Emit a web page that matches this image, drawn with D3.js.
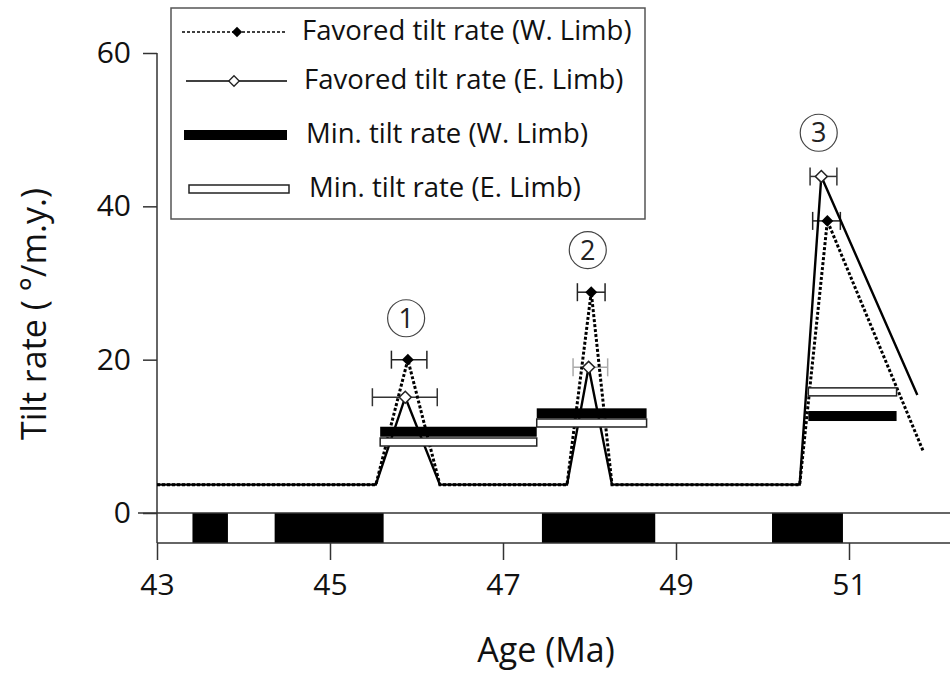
<!DOCTYPE html>
<html>
<head>
<meta charset="utf-8">
<script src="https://cdn.jsdelivr.net/npm/d3@7"></script>
<style>
  body { margin: 0; background: #fff; }
  text { font-family: "Open Sans", sans-serif; fill: #111; }
</style>
</head>
<body>
<div id="chart"></div>
<script>
// favored tilt rate, W. limb (dashed line, filled diamonds)
var westLine = [
  {age: 43.00, rate: 3.7}, {age: 45.53, rate: 3.7}, {age: 45.90, rate: 20.0},
  {age: 46.27, rate: 3.7}, {age: 47.74, rate: 3.7}, {age: 48.02, rate: 28.8},
  {age: 48.26, rate: 3.7}, {age: 50.43, rate: 3.7}, {age: 50.75, rate: 38.1},
  {age: 51.86, rate: 8.0}
];
var westPeaks = [
  {age: 45.90, rate: 20.0, lo: 45.71, hi: 46.12},
  {age: 48.02, rate: 28.8, lo: 47.86, hi: 48.18},
  {age: 50.75, rate: 38.1, lo: 50.58, hi: 50.90}
];

// favored tilt rate, E. limb (solid line, open diamonds)
var eastLine = [
  {age: 43.00, rate: 3.7}, {age: 45.53, rate: 3.7}, {age: 45.87, rate: 15.1},
  {age: 46.27, rate: 3.7}, {age: 47.74, rate: 3.7}, {age: 47.99, rate: 19.0},
  {age: 48.26, rate: 3.7}, {age: 50.43, rate: 3.7}, {age: 50.68, rate: 43.9},
  {age: 51.79, rate: 15.4}
];
var eastPeaks = [
  {age: 45.87, rate: 15.1, lo: 45.49, hi: 46.24, faint: false},
  {age: 47.99, rate: 19.0, lo: 47.81, hi: 48.21, faint: true},
  {age: 50.68, rate: 43.9, lo: 50.55, hi: 50.86, faint: false}
];

// minimum tilt rates
var westMin = [
  {from: 45.58, to: 47.39, rate: 10.6},
  {from: 47.39, to: 48.66, rate: 13.0},
  {from: 50.53, to: 51.55, rate: 12.65}
];
var eastMin = [
  {from: 45.58, to: 47.39, rate: 9.26},
  {from: 47.39, to: 48.66, rate: 11.74},
  {from: 50.53, to: 51.55, rate: 15.8}
];

// reversed polarity chrons (black blocks)
var chrons = [[43.41, 43.82], [44.36, 45.62], [47.45, 48.76], [50.11, 50.93]];

// circled event numbers
var events = [
  {label: "1", age: 45.88, rate: 25.4},
  {label: "2", age: 47.98, rate: 34.3},
  {label: "3", age: 50.65, rate: 49.6}
];

var xTicks = [43, 45, 47, 49, 51];
var yTicks = [0, 20, 40, 60];
var legendLabels = [
  "Favored tilt rate (W. Limb)",
  "Favored tilt rate (E. Limb)",
  "Min. tilt rate (W. Limb)",
  "Min. tilt rate (E. Limb)"
];

var width = 950, height = 674;

var svg = d3.select("#chart")
  .append("svg")
    .attr("width", width)
    .attr("height", height);

var x = d3.scaleLinear().domain([43, 51]).range([157, 849]);
var y = d3.scaleLinear().domain([0, 60]).range([513, 53]);
var barDepth = 30;
var y0 = y(0);

// polarity bar
svg.append("g")
  .selectAll("rect")
  .data(chrons)
  .enter().append("rect")
    .attr("x", d => x(d[0]))
    .attr("y", y0)
    .attr("width", d => x(d[1]) - x(d[0]))
    .attr("height", barDepth)
    .attr("fill", "#000");
svg.append("line")
  .attr("x1", x(43) - 19).attr("x2", width)
  .attr("y1", y0).attr("y2", y0)
  .attr("stroke", "#333").attr("stroke-width", 1.5);
svg.append("line")
  .attr("x1", x(43)).attr("x2", width)
  .attr("y1", y0 + barDepth).attr("y2", y0 + barDepth)
  .attr("stroke", "#333").attr("stroke-width", 1.5);

// y axis
var yAxis = svg.append("g")
  .attr("transform", "translate(" + x(43) + ",0)")
  .call(d3.axisLeft(y).tickValues(yTicks).tickSize(14).tickPadding(12))
  .call(g => g.select(".domain").remove());
yAxis.selectAll("line").attr("stroke", "#333").attr("stroke-width", 1.5);
yAxis.selectAll("text").style("font-size", "30px").style("font-family", "Open Sans");
svg.append("line")
  .attr("x1", x(43)).attr("x2", x(43))
  .attr("y1", y(60)).attr("y2", y0 + barDepth)
  .attr("stroke", "#333").attr("stroke-width", 1.5);

// x axis
var xAxis = svg.append("g")
  .attr("transform", "translate(0," + (y0 + barDepth) + ")")
  .call(d3.axisBottom(x).tickValues(xTicks).tickSize(17).tickPadding(14))
  .call(g => g.select(".domain").remove());
xAxis.selectAll("line").attr("stroke", "#333").attr("stroke-width", 1.5);
xAxis.selectAll("text").style("font-size", "30px").style("font-family", "Open Sans");

// axis titles
svg.append("text")
  .attr("x", 546).attr("y", 662)
  .attr("text-anchor", "middle")
  .style("font-size", "34px")
  .text("Age (Ma)");
svg.append("text")
  .attr("transform", "translate(46,314) rotate(-90)")
  .attr("text-anchor", "middle")
  .style("font-size", "34px")
  .text("Tilt rate ( °/m.y.)");

// error bars
function errorBars(data, color) {
  var g = svg.append("g");
  data.forEach(function(d) {
    var c = d.faint ? "#aaa" : color;
    g.append("line")
      .attr("x1", x(d.lo)).attr("x2", x(d.hi))
      .attr("y1", y(d.rate)).attr("y2", y(d.rate))
      .attr("stroke", c).attr("stroke-width", 1.5);
    [d.lo, d.hi].forEach(function(e) {
      g.append("line")
        .attr("x1", x(e)).attr("x2", x(e))
        .attr("y1", y(d.rate) - 9).attr("y2", y(d.rate) + 9)
        .attr("stroke", c).attr("stroke-width", 1.5);
    });
  });
}
errorBars(eastPeaks, "#333");
errorBars(westPeaks, "#222");

// lines
var line = d3.line().x(d => x(d.age)).y(d => y(d.rate));
svg.append("path")
  .datum(eastLine)
  .attr("fill", "none")
  .attr("stroke", "#000")
  .attr("stroke-width", 2.4)
  .attr("d", line);
svg.append("path")
  .datum(westLine)
  .attr("fill", "none")
  .attr("stroke", "#000")
  .attr("stroke-width", 3)
  .attr("stroke-dasharray", "3,2")
  .attr("d", line);

// min tilt rate bars
svg.append("g").selectAll("rect")
  .data(westMin)
  .enter().append("rect")
    .attr("x", d => x(d.from))
    .attr("y", d => y(d.rate) - 5)
    .attr("width", d => x(d.to) - x(d.from))
    .attr("height", 10)
    .attr("fill", "#000");
svg.append("g").selectAll("rect")
  .data(eastMin)
  .enter().append("rect")
    .attr("x", d => x(d.from))
    .attr("y", d => y(d.rate) - 4)
    .attr("width", d => x(d.to) - x(d.from))
    .attr("height", 8)
    .attr("fill", "#fff")
    .attr("stroke", "#222")
    .attr("stroke-width", 1.5);

// diamonds
var diamond = d3.symbol().type(d3.symbolDiamond2);
svg.append("g").selectAll("path")
  .data(eastPeaks)
  .enter().append("path")
    .attr("transform", d => "translate(" + x(d.age) + "," + y(d.rate) + ")")
    .attr("d", diamond.size(90)())
    .attr("fill", "#fff")
    .attr("stroke", "#222")
    .attr("stroke-width", 1.5);
svg.append("g").selectAll("path")
  .data(westPeaks)
  .enter().append("path")
    .attr("transform", d => "translate(" + x(d.age) + "," + y(d.rate) + ")")
    .attr("d", diamond.size(90)())
    .attr("fill", "#000");

// circled numbers
var ev = svg.append("g").selectAll("g")
  .data(events)
  .enter().append("g")
    .attr("transform", d => "translate(" + x(d.age) + "," + y(d.rate) + ")");
ev.append("circle")
  .attr("r", 18.5)
  .attr("fill", "#fff")
  .attr("stroke", "#444")
  .attr("stroke-width", 1.2);
ev.append("text")
  .attr("text-anchor", "middle")
  .attr("dy", "0.36em")
  .style("font-size", "27px")
  .style("fill", "#222")
  .text(d => d.label);

// legend
var legend = svg.append("g");
legend.append("rect")
  .attr("x", 171).attr("y", 8)
  .attr("width", 474).attr("height", 211)
  .attr("fill", "#fff")
  .attr("stroke", "#555")
  .attr("stroke-width", 1.5);
var rowY = [32, 81, 135, 189];
var rowTextX = [302, 304, 306, 309];

legend.append("line")
  .attr("x1", 182).attr("x2", 285).attr("y1", rowY[0]).attr("y2", rowY[0])
  .attr("stroke", "#000").attr("stroke-width", 1.5).attr("stroke-dasharray", "3,2");
legend.append("path")
  .attr("transform", "translate(237," + rowY[0] + ")")
  .attr("d", diamond.size(70)())
  .attr("fill", "#000");

legend.append("line")
  .attr("x1", 186).attr("x2", 287).attr("y1", rowY[1]).attr("y2", rowY[1])
  .attr("stroke", "#000").attr("stroke-width", 1.5);
legend.append("path")
  .attr("transform", "translate(234," + rowY[1] + ")")
  .attr("d", diamond.size(70)())
  .attr("fill", "#fff").attr("stroke", "#222").attr("stroke-width", 1.3);

legend.append("rect")
  .attr("x", 184).attr("y", rowY[2] - 5).attr("width", 103).attr("height", 10)
  .attr("fill", "#000");
legend.append("rect")
  .attr("x", 189).attr("y", rowY[3] - 4).attr("width", 100).attr("height", 8)
  .attr("fill", "#fff").attr("stroke", "#222").attr("stroke-width", 1.5);

legend.selectAll("text.lab")
  .data(legendLabels)
  .enter().append("text")
    .attr("class", "lab")
    .attr("x", (d, i) => rowTextX[i])
    .attr("y", (d, i) => rowY[i])
    .attr("dy", "0.3em")
    .style("font-size", "27.5px")
    .text(d => d);
</script>
</body>
</html>
